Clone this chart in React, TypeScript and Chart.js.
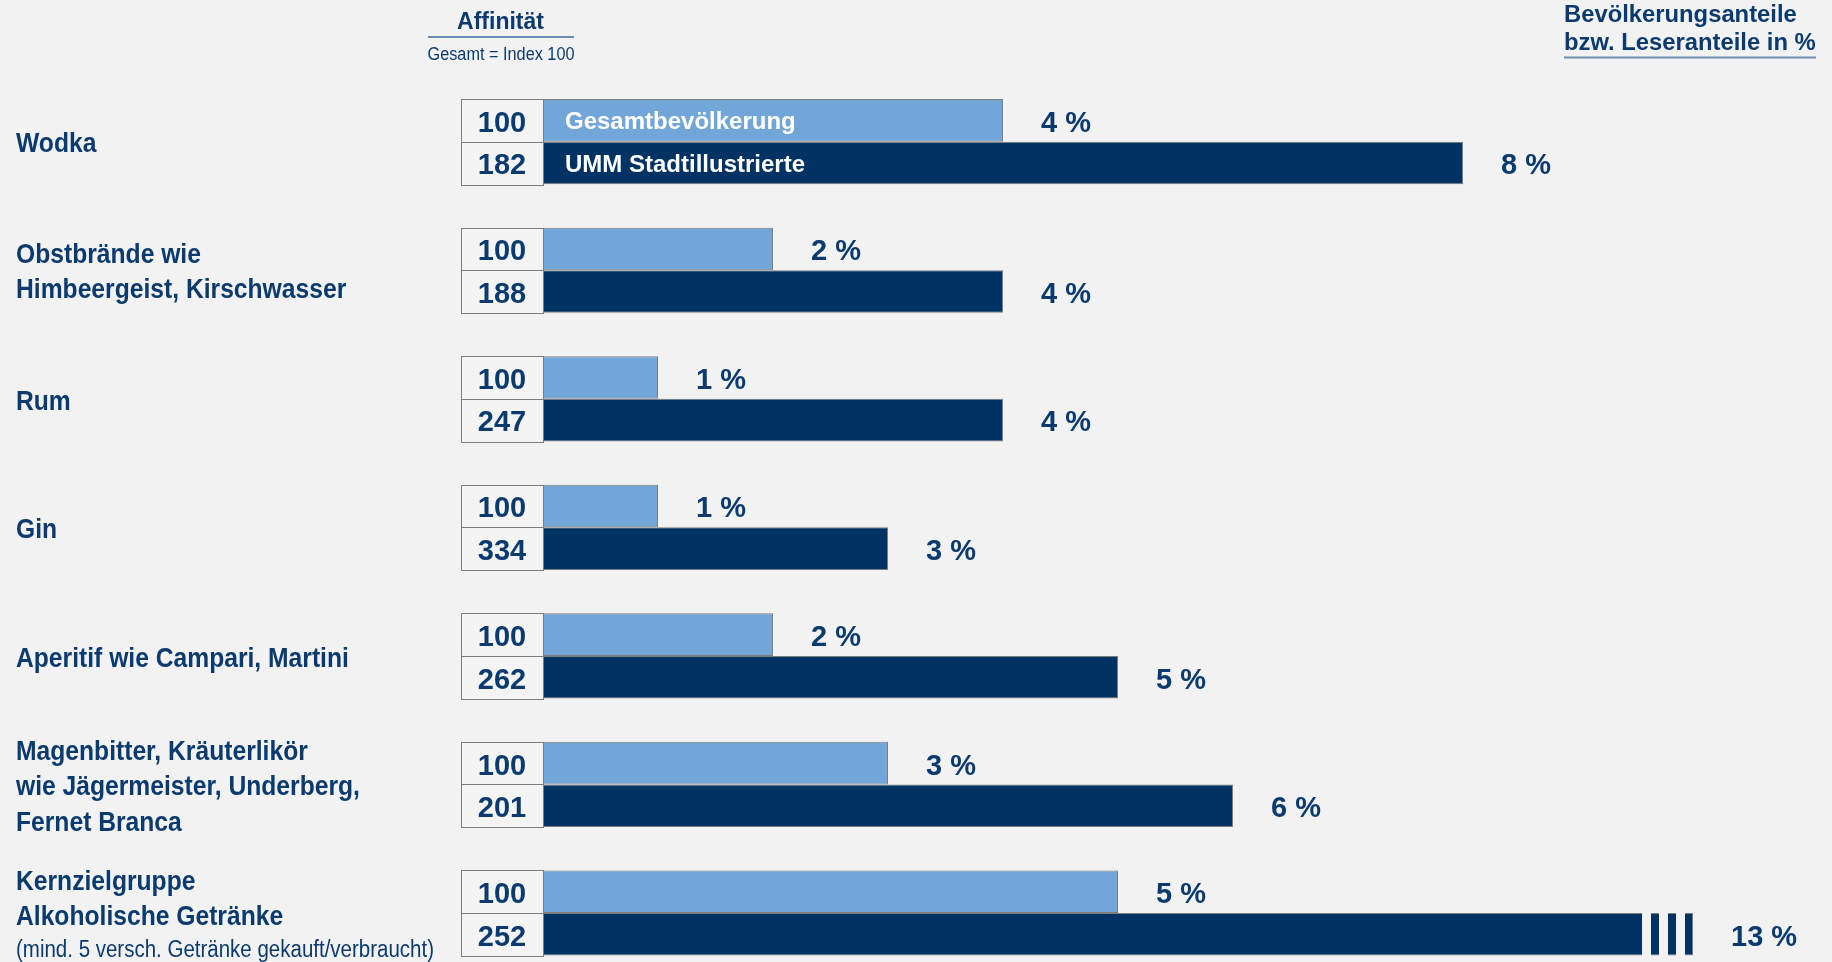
import React, { useEffect, useRef } from "react";
import { Chart, registerables } from "chart.js";

Chart.register(...registerables);

// ---------- data ----------
const CATEGORY_LINES: string[][] = [
  ["Wodka"],
  ["Obstbrände wie", "Himbeergeist, Kirschwasser"],
  ["Rum"],
  ["Gin"],
  ["Aperitif wie Campari, Martini"],
  ["Magenbitter, Kräuterlikör", "wie Jägermeister, Underberg,", "Fernet Branca"],
  ["Kernzielgruppe", "Alkoholische Getränke"],
];
const CATEGORY_NOTES: string[] = ["", "", "", "", "", "", "(mind. 5 versch. Getränke gekauft/verbraucht)"];
const SERIES_NAMES: string[] = ["Gesamtbevölkerung", "UMM Stadtillustrierte"];
const POPULATION_SHARE: number[] = [4, 2, 1, 1, 2, 3, 5];
const READER_SHARE: number[] = [8, 4, 4, 3, 5, 6, 13];
const POPULATION_INDEX: number[] = [100, 100, 100, 100, 100, 100, 100];
const READER_INDEX: number[] = [182, 188, 247, 334, 262, 201, 252];
const AXIS_MAX = 11;
const AXIS_BREAK = 10;
const HEADER_LEFT: string[] = ["Affinität", "Gesamt = Index 100"];
const HEADER_RIGHT: string[] = ["Bevölkerungsanteile", "bzw. Leseranteile in %"];

// ---------- style ----------
const W = 1832;
const H = 962;
const FONT = '"Liberation Sans", Arial, Helvetica, sans-serif';
const TEXT = "#0b3a6f";
const BG = "#f2f2f2";
const LIGHT = "#72a6d9";
const DARK = "#003263";
const EDGE = "#7d7d7d";
const RULE = "#6d8db5";
const BOX_W = 82;

// draws text with its cap-height centred on y
function drawText(
  ctx: CanvasRenderingContext2D,
  s: string,
  x: number,
  y: number,
  size: number,
  weight: string,
  sx: number,
  align: CanvasTextAlign,
  color: string
) {
  ctx.save();
  ctx.translate(x, y + 0.358 * size);
  ctx.scale(sx, 1);
  ctx.font = `${weight} ${size}px ${FONT}`;
  ctx.textAlign = align;
  ctx.textBaseline = "alphabetic";
  ctx.fillStyle = color;
  ctx.fillText(s, 0, 0);
  ctx.restore();
}

const decorPlugin = {
  id: "decor",
  beforeDraw(chart: any) {
    const ctx = chart.ctx as CanvasRenderingContext2D;
    ctx.save();
    ctx.fillStyle = BG;
    ctx.fillRect(0, 0, chart.width, chart.height);
    ctx.restore();
  },
  afterDatasetsDraw(chart: any) {
    const ctx = chart.ctx as CanvasRenderingContext2D;
    const yScale = chart.scales.y;
    const xScale = chart.scales.x;
    const x0 = xScale.getPixelForValue(0);

    // headers
    drawText(ctx, HEADER_LEFT[0], 500.5, 21, 23, "bold", 1.0, "center", TEXT);
    ctx.save();
    ctx.strokeStyle = RULE;
    ctx.lineWidth = 2;
    ctx.beginPath();
    ctx.moveTo(428, 37);
    ctx.lineTo(574, 37);
    ctx.moveTo(1564, 57.5);
    ctx.lineTo(1816, 57.5);
    ctx.stroke();
    ctx.restore();
    drawText(ctx, HEADER_LEFT[1], 501, 54, 17.5, "normal", 0.93, "center", TEXT);
    drawText(ctx, HEADER_RIGHT[0], 1564, 13, 23.8, "bold", 1, "left", TEXT);
    drawText(ctx, HEADER_RIGHT[1], 1564, 41, 23.8, "bold", 1, "left", TEXT);

    const shares = [POPULATION_SHARE, READER_SHARE];
    const indexes = [POPULATION_INDEX, READER_INDEX];

    chart.data.datasets.forEach((ds: any, di: number) => {
      const meta = chart.getDatasetMeta(di);
      meta.data.forEach((el: any, i: number) => {
        const h = el.height;
        const top = el.y - h / 2;
        // index box
        ctx.save();
        ctx.fillStyle = "#f4f4f4";
        ctx.fillRect(el.base - BOX_W, top, BOX_W, h);
        ctx.strokeStyle = EDGE;
        ctx.lineWidth = 1;
        ctx.strokeRect(Math.round(el.base - BOX_W) + 0.5, Math.round(top) + 0.5, BOX_W, Math.round(h));
        ctx.restore();
        drawText(ctx, String(indexes[di][i]), el.base - BOX_W / 2, el.y + 1, 29, "bold", 1, "center", TEXT);

        const end = el.x;
        const real = shares[di][i];
        if (real > AXIS_BREAK) {
          // axis break: cut three gaps at the end of the bar
          ctx.save();
          ctx.fillStyle = BG;
          const stripe = 8;
          const gap = 9;
          for (let k = 0; k < 3; k++) {
            const gx = end - stripe - k * (stripe + gap) - gap;
            ctx.fillRect(gx, top - 1, gap, h + 2);
          }
          ctx.restore();
        }
        drawText(ctx, `${real} %`, end + 38, el.y + 1, 29, "bold", 1, "left", TEXT);

        if (i === 0) {
          drawText(ctx, SERIES_NAMES[di], x0 + 22, el.y, 24, "bold", 1, "left", "#ffffff");
        }
      });
    });

    // category labels
    CATEGORY_LINES.forEach((lines, i) => {
      const cy = yScale.getPixelForValue(i) + 0.5;
      const note = CATEGORY_NOTES[i];
      const lh = lines.length === 3 ? 35.5 : 35;
      const nh = 33;
      const total = lines.length * lh + (note ? nh : 0);
      let y = cy - total / 2;
      lines.forEach((ln) => {
        drawText(ctx, ln, 16, y + lh / 2, 28.5, "bold", 0.865, "left", TEXT);
        y += lh;
      });
      if (note) {
        drawText(ctx, note, 16, y + nh / 2, 23.5, "normal", 0.872, "left", TEXT);
      }
    });
  },
};

export default function App() {
  const ref = useRef<HTMLCanvasElement | null>(null);

  useEffect(() => {
    if (!ref.current) return;
    const chart = new Chart(ref.current, {
      type: "bar",
      data: {
        labels: CATEGORY_LINES,
        datasets: [
          {
            label: SERIES_NAMES[0],
            data: POPULATION_SHARE.map((v) => Math.min(v, AXIS_BREAK)),
            backgroundColor: LIGHT,
            borderColor: EDGE,
            borderWidth: 1,
            clip: false as any,
          },
          {
            label: SERIES_NAMES[1],
            data: READER_SHARE.map((v) => Math.min(v, AXIS_BREAK)),
            backgroundColor: DARK,
            borderColor: EDGE,
            borderWidth: 1,
            clip: false as any,
          },
        ],
      },
      options: {
        indexAxis: "y",
        animation: false,
        responsive: false,
        devicePixelRatio: 1,
        layout: { padding: { left: 543, right: W - 543 - AXIS_MAX * 115, top: 141.7, bottom: 49 } },
        datasets: { bar: { categoryPercentage: 0.663, barPercentage: 1 } },
        scales: {
          x: { type: "linear", min: 0, max: AXIS_MAX, display: false },
          y: { type: "category", offset: false, display: false },
        },
        plugins: {
          legend: { display: false },
          tooltip: { enabled: false },
        },
      },
      plugins: [decorPlugin],
    });
    return () => chart.destroy();
  }, []);

  return (
    <div style={{ position: "fixed", left: 0, top: 0, width: W, height: H, background: BG }}>
      <canvas ref={ref} width={W} height={H} style={{ width: W, height: H, display: "block" }} />
    </div>
  );
}
